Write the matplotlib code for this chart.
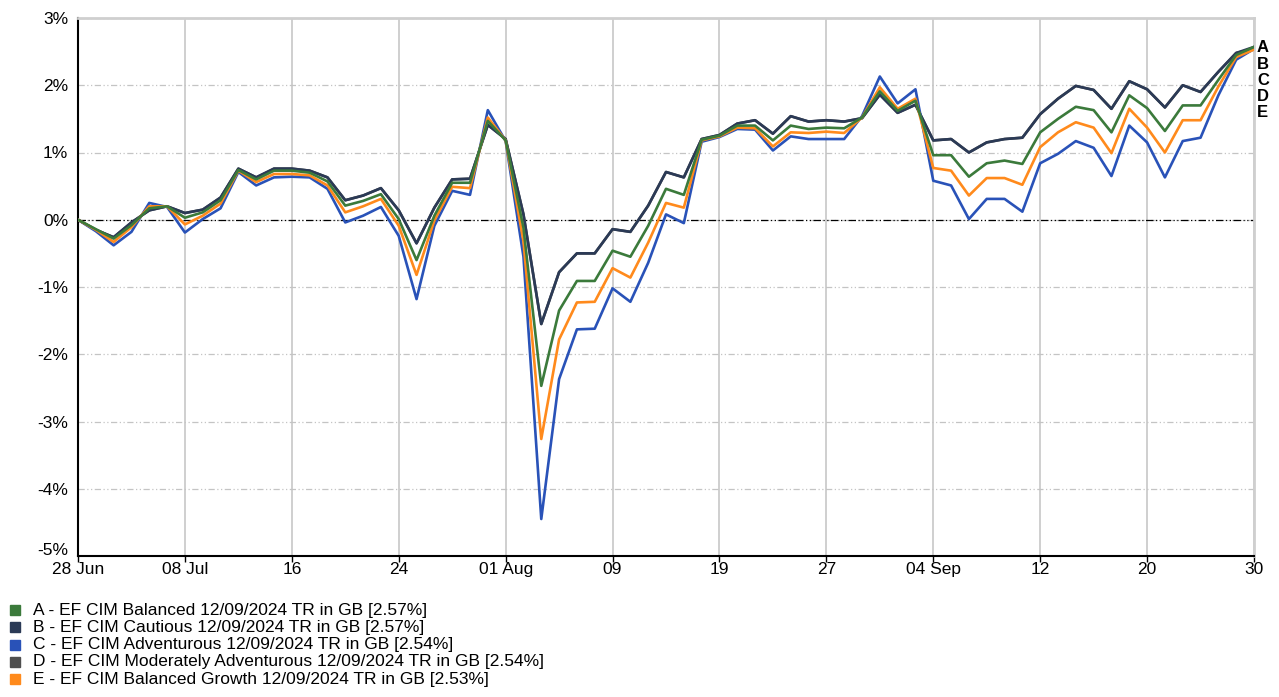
import matplotlib.pyplot as plt
import matplotlib.transforms as mtransforms
from matplotlib.patches import Rectangle

plt.rcParams['font.family'] = ['Liberation Sans', 'DejaVu Sans']

# trading days 28 Jun - 30 Sep 2024
dates = ['28 Jun', '01 Jul', '02 Jul', '03 Jul', '04 Jul', '05 Jul', '08 Jul', '09 Jul', '10 Jul', '11 Jul',
         '12 Jul', '15 Jul', '16 Jul', '17 Jul', '18 Jul', '19 Jul', '22 Jul', '23 Jul', '24 Jul', '25 Jul',
         '26 Jul', '29 Jul', '30 Jul', '31 Jul', '01 Aug', '02 Aug', '05 Aug', '06 Aug', '07 Aug', '08 Aug',
         '09 Aug', '12 Aug', '13 Aug', '14 Aug', '15 Aug', '16 Aug', '19 Aug', '20 Aug', '21 Aug', '22 Aug',
         '23 Aug', '26 Aug', '27 Aug', '28 Aug', '29 Aug', '30 Aug', '02 Sep', '03 Sep', '04 Sep', '05 Sep',
         '06 Sep', '09 Sep', '10 Sep', '11 Sep', '12 Sep', '13 Sep', '16 Sep', '17 Sep', '18 Sep', '19 Sep',
         '20 Sep', '23 Sep', '24 Sep', '25 Sep', '26 Sep', '27 Sep', '30 Sep']
tick_labels = ['28 Jun', '08 Jul', '16', '24', '01 Aug', '09', '19', '27', '04 Sep', '12', '20', '30']

A = [0, -0.14, -0.28, -0.08, 0.17, 0.2, 0.03, 0.11, 0.29, 0.74,
     0.6, 0.73, 0.73, 0.7, 0.57, 0.21, 0.28, 0.38, 0.01, -0.6,
     0.06, 0.55, 0.55, 1.47, 1.18, -0.12, -2.47, -1.35, -0.91, -0.91,
     -0.46, -0.55, -0.09, 0.46, 0.37, 1.19, 1.25, 1.4, 1.4, 1.18,
     1.4, 1.35, 1.37, 1.36, 1.52, 1.91, 1.62, 1.77, 0.96, 0.96,
     0.64, 0.84, 0.88, 0.83, 1.3, 1.5, 1.68, 1.63, 1.3, 1.85,
     1.66, 1.32, 1.7, 1.7, 2.08, 2.45, 2.57]
B = [0, -0.15, -0.26, -0.04, 0.14, 0.2, 0.1, 0.15, 0.33, 0.76,
     0.63, 0.76, 0.76, 0.73, 0.63, 0.29, 0.36, 0.47, 0.14, -0.35,
     0.18, 0.6, 0.61, 1.41, 1.2, 0.08, -1.55, -0.78, -0.5, -0.5,
     -0.14, -0.18, 0.21, 0.71, 0.63, 1.2, 1.26, 1.43, 1.48, 1.28,
     1.54, 1.46, 1.48, 1.46, 1.51, 1.86, 1.59, 1.71, 1.18, 1.2,
     1.0, 1.15, 1.2, 1.22, 1.57, 1.8, 1.99, 1.93, 1.65, 2.06,
     1.94, 1.67, 2.0, 1.9, 2.2, 2.48, 2.57]
C = [0, -0.17, -0.38, -0.18, 0.25, 0.19, -0.19, 0.01, 0.17, 0.71,
     0.51, 0.63, 0.64, 0.63, 0.46, -0.04, 0.06, 0.19, -0.24, -1.18,
     -0.09, 0.43, 0.37, 1.63, 1.17, -0.55, -4.45, -2.37, -1.63, -1.62,
     -1.02, -1.22, -0.64, 0.08, -0.05, 1.16, 1.23, 1.35, 1.34, 1.03,
     1.24, 1.2, 1.2, 1.2, 1.54, 2.13, 1.73, 1.94, 0.58, 0.51,
     0.01, 0.31, 0.31, 0.12, 0.84, 0.98, 1.17, 1.07, 0.65, 1.4,
     1.15, 0.63, 1.17, 1.22, 1.85, 2.38, 2.54]
D = [0, -0.15, -0.26, -0.04, 0.14, 0.2, 0.1, 0.15, 0.33, 0.76,
     0.63, 0.76, 0.76, 0.73, 0.63, 0.29, 0.36, 0.47, 0.14, -0.35,
     0.18, 0.6, 0.61, 1.41, 1.2, 0.08, -1.55, -0.78, -0.5, -0.5,
     -0.14, -0.18, 0.21, 0.71, 0.63, 1.2, 1.26, 1.43, 1.48, 1.28,
     1.54, 1.46, 1.48, 1.46, 1.51, 1.86, 1.59, 1.71, 1.18, 1.2,
     1.0, 1.15, 1.2, 1.22, 1.57, 1.8, 1.99, 1.93, 1.65, 2.06,
     1.94, 1.67, 2.0, 1.9, 2.2, 2.48, 2.54]
E = [0, -0.15, -0.33, -0.11, 0.2, 0.2, -0.07, 0.06, 0.24, 0.73,
     0.56, 0.68, 0.68, 0.66, 0.51, 0.11, 0.2, 0.31, -0.09, -0.82,
     -0.01, 0.49, 0.47, 1.52, 1.18, -0.32, -3.26, -1.78, -1.23, -1.22,
     -0.72, -0.86, -0.34, 0.25, 0.18, 1.18, 1.24, 1.37, 1.36, 1.09,
     1.3, 1.29, 1.31, 1.29, 1.52, 1.97, 1.65, 1.8, 0.77, 0.73,
     0.36, 0.62, 0.62, 0.52, 1.08, 1.3, 1.45, 1.37, 0.99, 1.65,
     1.37, 1.0, 1.48, 1.48, 1.98, 2.42, 2.53]

names = ['A - EF CIM Balanced 12/09/2024 TR in GB [2.57%]',
         'B - EF CIM Cautious 12/09/2024 TR in GB [2.57%]',
         'C - EF CIM Adventurous 12/09/2024 TR in GB [2.54%]',
         'D - EF CIM Moderately Adventurous 12/09/2024 TR in GB [2.54%]',
         'E - EF CIM Balanced Growth 12/09/2024 TR in GB [2.53%]']
colors = {'A': '#3b7a3b', 'B': '#2b3a56', 'C': '#2952b8', 'D': '#4f4f4f', 'E': '#ff8a1c'}
series = {'A': A, 'B': B, 'C': C, 'D': D, 'E': E}

fig = plt.figure(figsize=(12.79, 6.97), dpi=100)
ax = fig.add_axes([78 / 1279, 141 / 697, 1176 / 1279, 538 / 697])

x = list(range(len(dates)))
for key in ['D', 'B', 'C', 'E', 'A']:
    ax.plot(x, series[key], color=colors[key], lw=1.9, zorder=3)

ax.axhline(0, color='black', lw=0.9, ls=(0, (6, 2, 1, 2, 1, 2)), zorder=2)

ax.set_xlim(0, len(dates) - 1)
ax.set_ylim(-5, 3)
ax.set_xticks(x[::6])
ax.set_xticklabels(tick_labels)
ax.set_yticks(range(-5, 4))
ax.set_yticklabels(['%d%%' % v for v in range(-5, 4)])
ax.grid(axis='x', color='#cccccc', lw=1.3, ls='-')
ax.grid(axis='y', color='#c4c4c4', lw=0.9, ls=(0, (5, 2, 1, 2, 1, 2)))
ax.tick_params(axis='x', length=4, width=1, pad=0, labelsize=12.5)
ax.tick_params(axis='y', length=0, pad=7, labelsize=12.5)

# nudge the bottom y label up so it clears "28 Jun"
lab = ax.get_yticklabels()[0]
lab.set_transform(lab.get_transform() + mtransforms.ScaledTranslation(0, 5 / 72, fig.dpi_scale_trans))

for s in ['left', 'bottom']:
    ax.spines[s].set_color('black')
    ax.spines[s].set_linewidth(1.5)
for s in ['top', 'right']:
    ax.spines[s].set_color('#cfcfcf')
    ax.spines[s].set_linewidth(2)

# end labels
for i, key in enumerate(['A', 'B', 'C', 'D', 'E']):
    fig.text(1257 / 1279, 1 - (48 + i * 16.2) / 697, key, fontsize=12, fontweight='bold',
             va='center', ha='left')

# legend
for i, (key, name) in enumerate(zip(['A', 'B', 'C', 'D', 'E'], names)):
    yc = 1 - (610 + i * 17.3) / 697
    fig.patches.append(Rectangle((10 / 1279, yc - 5 / 697), 10 / 1279, 10 / 697,
                                 transform=fig.transFigure, color=colors[key]))
    fig.text(33 / 1279, yc, name, fontsize=12.5, va='center', ha='left')

fig.savefig('out.png', dpi=100)
